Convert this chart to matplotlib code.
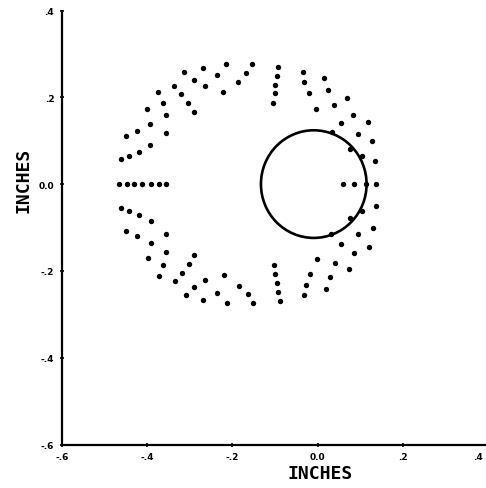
import matplotlib
matplotlib.use('Agg')
import matplotlib.pyplot as plt
from matplotlib.patches import Circle
from matplotlib.transforms import ScaledTranslation

# upper half of the dot pattern
upper_x = [-0.462, -0.442, -0.420, -0.393, -0.355, -0.449, -0.425, -0.394, -0.355, -0.401,
           -0.364, -0.375, -0.336, -0.320, -0.304, -0.289, -0.313, -0.291, -0.265, -0.222,
           -0.269, -0.237, -0.188, -0.216, -0.168, -0.155, -0.092, -0.096, -0.099, -0.101,
           -0.105, -0.035, -0.031, -0.021, -0.004, 0.016, 0.024, 0.038, 0.056, 0.070,
           0.082, 0.095, 0.075, 0.118, 0.128, 0.105, 0.134, 0.033]
upper_y = [0.058, 0.065, 0.075, 0.089, 0.117, 0.110, 0.122, 0.138, 0.159, 0.173,
           0.188, 0.213, 0.227, 0.207, 0.188, 0.165, 0.259, 0.241, 0.225, 0.212,
           0.268, 0.252, 0.235, 0.276, 0.256, 0.276, 0.270, 0.248, 0.229, 0.209,
           0.188, 0.259, 0.235, 0.209, 0.174, 0.245, 0.216, 0.183, 0.140, 0.198,
           0.159, 0.116, 0.080, 0.144, 0.100, 0.064, 0.053, 0.119]

# dots along y = 0
mid_x = [-0.466, -0.448, -0.430, -0.412, -0.391, -0.372, -0.355, 0.060, 0.085, 0.113, 0.138]
mid_y = [0.0] * len(mid_x)

# lower half
lower_x = [-0.461, -0.442, -0.420, -0.391, -0.357, -0.449, -0.424, -0.392, -0.355, -0.398,
           -0.362, -0.373, -0.289, -0.303, -0.318, -0.334, -0.310, -0.289, -0.264, -0.220,
           -0.268, -0.235, -0.185, -0.213, -0.163, -0.151, -0.103, -0.100, -0.096, -0.093,
           -0.089, -0.002, -0.019, -0.028, -0.032, 0.041, 0.028, 0.020, 0.056, 0.085,
           0.073, 0.096, 0.075, 0.120, 0.129, 0.105, 0.136, 0.031]
lower_y = [-0.056, -0.062, -0.072, -0.086, -0.114, -0.108, -0.120, -0.135, -0.156, -0.170,
           -0.186, -0.211, -0.163, -0.183, -0.204, -0.223, -0.255, -0.238, -0.222, -0.209,
           -0.267, -0.250, -0.234, -0.273, -0.253, -0.275, -0.186, -0.208, -0.227, -0.248,
           -0.269, -0.172, -0.206, -0.233, -0.256, -0.181, -0.215, -0.242, -0.139, -0.159,
           -0.195, -0.115, -0.078, -0.144, -0.100, -0.062, -0.051, -0.115]

# circle
circ_center = (-0.009, 0.0)
circ_radius = 0.124

ticks = [-0.6, -0.4, -0.2, 0.0, 0.2, 0.4]
x_ticklabels = ['-.6', '-.4', '-.2', '0.0', '.2', '.4']
y_ticklabels = ['-.6', '-.4', '-.2', '0.0', '.2', '.4']

fig = plt.figure(figsize=(4.86, 4.89), dpi=100)
ax = fig.add_axes([62 / 486, 1 - 445.5 / 489, 426 / 486, 434 / 489])

ax.scatter(upper_x + mid_x + lower_x, upper_y + mid_y + lower_y,
           s=15, c='black', marker='o', linewidths=0)
ax.add_patch(Circle(circ_center, circ_radius, fill=False, ec='black', lw=1.9))

ax.set_xlim(-0.6, 0.4)
ax.set_ylim(-0.6, 0.4)

for side in ['top', 'right']:
    ax.spines[side].set_visible(False)
for side in ['left', 'bottom']:
    ax.spines[side].set_linewidth(1.6)

ax.set_xticks(ticks)
ax.set_xticklabels(x_ticklabels)
ax.set_yticks(ticks)
ax.set_yticklabels(y_ticklabels)
ax.tick_params(direction='inout', length=3, width=1.2, pad=4)
for lab in ax.get_xticklabels() + ax.get_yticklabels():
    lab.set_fontsize(6.5)
    lab.set_fontweight('bold')
    lab.set_family('DejaVu Sans')
# last x label sits at the page edge, nudge it inside
last = ax.get_xticklabels()[-1]
last.set_horizontalalignment('right')
last.set_transform(last.get_transform() + ScaledTranslation(-4 / 72, 0, fig.dpi_scale_trans))

# axis titles sit near the zero lines, not at axes centre
fig.text(320 / 486, 1 - 474 / 489, 'INCHES', ha='center', va='center',
         family='DejaVu Sans Mono', fontweight='bold', fontsize=13)
fig.text(23 / 486, 1 - 180 / 489, 'INCHES', ha='center', va='center', rotation=90,
         family='DejaVu Sans Mono', fontweight='bold', fontsize=13)

fig.savefig('out.png', dpi=100)
